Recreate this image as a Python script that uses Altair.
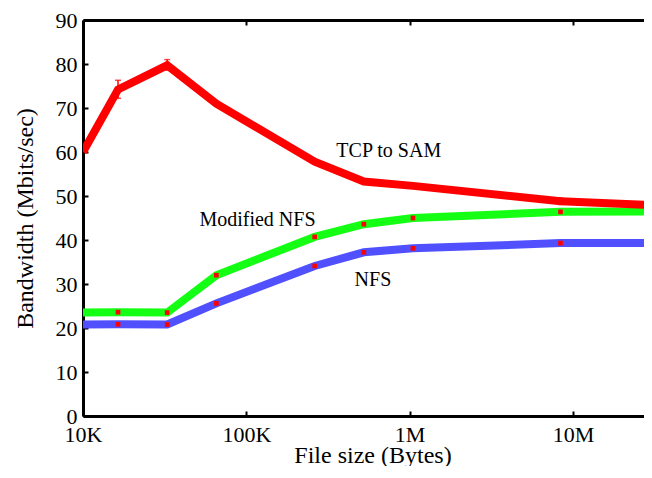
import altair as alt
import pandas as pd

# ---- data ----
sizes = [10000, 16384, 32768, 65536, 262144, 524288, 1048576, 8388608, 33554432]
tcp_sam = [60.0, 74.2, 79.7, 71.0, 57.8, 53.3, 52.3, 48.8, 47.9]
mod_nfs = [23.5, 23.6, 23.5, 32.0, 40.7, 43.6, 45.0, 46.4, 46.5]
nfs = [20.8, 20.85, 20.8, 25.6, 34.1, 37.2, 38.1, 39.3, 39.3]

err_sizes = [16384, 32768, 8388608]
err_low = [72.2, 78.6, 48.1]
err_high = [76.3, 81.0, 49.6]

series_names = ["NFS", "Modified NFS", "TCP to SAM"]
series_colors = ["#5050ff", "#14ff14", "#ff0000"]

label_text = ["TCP to SAM", "Modified NFS", "NFS"]
label_x = [745000, 117000, 596000]
label_y = [58.8, 43.2, 29.5]

x_ticks = [10000, 100000, 1000000, 10000000]
y_ticks = [0, 10, 20, 30, 40, 50, 60, 70, 80, 90]

# ---- tables ----
rows = []
for name, vals in zip(series_names, [nfs, mod_nfs, tcp_sam]):
    for s, v in zip(sizes, vals):
        rows.append({"size": s, "bw": v, "series": name})
df = pd.DataFrame(rows)
df_err = pd.DataFrame({"size": err_sizes, "lo": err_low, "hi": err_high})
df_lab = pd.DataFrame({"text": label_text, "size": label_x, "bw": label_y})

FONT = "Liberation Serif"
XMAX = 27230000
xscale = alt.Scale(type="log", domain=[10000, XMAX], nice=False)
yscale = alt.Scale(domain=[0, 90], nice=False, zero=False)

tick_only = dict(labels=False, domain=False, ticks=True, tickSize=5, tickWidth=2,
                 tickColor="black", grid=False, title=None)

x_main = alt.Axis(values=x_ticks, orient="bottom", ticks=False, tickSize=0, grid=False,
                  labelExpr="datum.value >= 1000000 ? format(datum.value/1000000, 'd') + 'M' : format(datum.value/1000, 'd') + 'K'",
                  labelFont=FONT, labelFontSize=22, labelColor="black", labelPadding=8,
                  labelFlush=False, labelOverlap=False,
                  domainColor="black", domainWidth=3,
                  title="File size (Bytes)", titleFont=FONT, titleFontSize=24,
                  titleFontWeight="normal", titleColor="black",
                  titleX=289.5, titleY=46, titleBaseline="alphabetic")
y_main = alt.Axis(values=y_ticks, orient="left", ticks=False, tickSize=0, grid=False,
                  labelFont=FONT, labelFontSize=22, labelColor="black", labelPadding=6,
                  labelFlush=False, labelOverlap=False,
                  domainColor="black", domainWidth=3,
                  title="Bandwidth (Mbits/sec)", titleFont=FONT, titleFontSize=24,
                  titleFontWeight="normal", titleColor="black",
                  titleAngle=270, titleX=-51, titleY=198, titleAlign="center",
                  titleBaseline="alphabetic")

lines = alt.Chart(df).mark_line(strokeWidth=8, clip=True).encode(
    x=alt.X("size:Q", scale=xscale, axis=x_main),
    y=alt.Y("bw:Q", scale=yscale, axis=y_main),
    color=alt.Color("series:N", scale=alt.Scale(domain=series_names, range=series_colors), legend=None),
    detail="series:N",
)

markers = alt.Chart(df).transform_filter(
    f"datum.series != 'TCP to SAM' && datum.size > 10000 && datum.size < {XMAX}"
).mark_square(size=22, color="#ff0000", opacity=1, clip=True).encode(
    x=alt.X("size:Q", scale=xscale,
            axis=alt.Axis(orient="top", labels=False, ticks=False, grid=False, title=None,
                          domain=True, domainColor="black", domainWidth=3)),
    y=alt.Y("bw:Q", scale=yscale, axis=alt.Axis(orient="left", offset=-5, values=y_ticks, **tick_only)),
)

err_rule = alt.Chart(df_err).mark_rule(color="#ff0000", strokeWidth=1.5).encode(
    x=alt.X("size:Q", scale=xscale,
            axis=alt.Axis(orient="bottom", offset=-5, values=x_ticks, **tick_only)),
    y=alt.Y("lo:Q", scale=yscale, axis=None),
    y2="hi:Q",
)
err_cap_hi = alt.Chart(df_err).mark_tick(color="#ff0000", orient="horizontal", size=6, thickness=1.5).encode(
    x=alt.X("size:Q", scale=xscale, axis=None),
    y=alt.Y("hi:Q", scale=yscale, axis=None),
)
err_cap_lo = alt.Chart(df_err).mark_tick(color="#ff0000", orient="horizontal", size=6, thickness=1.5).encode(
    x=alt.X("size:Q", scale=xscale, axis=None),
    y=alt.Y("lo:Q", scale=yscale, axis=None),
)

labels = alt.Chart(df_lab).mark_text(font=FONT, fontSize=20, color="black", align="center",
                                     baseline="alphabetic").encode(
    x=alt.X("size:Q", scale=xscale,
            axis=alt.Axis(orient="top", offset=-5, values=x_ticks, **tick_only)),
    y=alt.Y("bw:Q", scale=yscale, axis=None),
    text="text:N",
)

chart = alt.layer(lines, markers, err_rule, err_cap_hi, err_cap_lo, labels).resolve_axis(
    x="independent", y="independent"
).properties(
    width=561, height=396,
    autosize=alt.AutoSizeParams(type="none"),
    padding={"left": 75, "top": 12, "right": 0, "bottom": 50},
    background="white",
).configure_view(stroke=None)

chart.save("out.html", embed_options={"renderer": "svg", "actions": False})
